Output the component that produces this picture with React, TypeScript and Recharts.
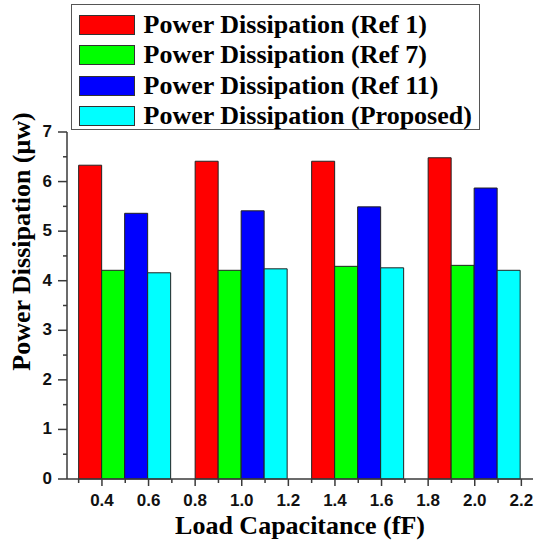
import { BarChart, Bar, XAxis, YAxis, Legend } from 'recharts';

const loads = [0.5, 1.0, 1.5, 2.0];
const ref1 = [6.33, 6.41, 6.41, 6.48];
const ref7 = [4.21, 4.21, 4.29, 4.31];
const ref11 = [5.36, 5.41, 5.49, 5.87];
const proposed = [4.16, 4.24, 4.26, 4.21];

const xTicks = [0.3, 0.4, 0.5, 0.6, 0.7, 0.8, 0.9, 1.0, 1.1, 1.2, 1.3, 1.4, 1.5, 1.6, 1.7, 1.8, 1.9, 2.0, 2.1, 2.2];
const xLabels = [0.4, 0.6, 0.8, 1.0, 1.2, 1.4, 1.6, 1.8, 2.0, 2.2];
const yTicks = [0, 0.5, 1, 1.5, 2, 2.5, 3, 3.5, 4, 4.5, 5, 5.5, 6, 6.5, 7];

const seriesNames = [
  'Power Dissipation (Ref 1)',
  'Power Dissipation (Ref 7)',
  'Power Dissipation (Ref 11)',
  'Power Dissipation (Proposed)'
];

const data = loads.map((load, i) => ({
  load,
  group: load.toFixed(1),
  ref1: ref1[i],
  ref7: ref7[i],
  ref11: ref11[i],
  proposed: proposed[i]
}));

const axisColor = '#3a3a3a';
const tickFont = { fontFamily: '"Liberation Sans", Arial, sans-serif', fontWeight: 700, fontSize: 17, fill: '#111' };
const titleFont = { fontFamily: '"Liberation Serif", "Times New Roman", serif', fontWeight: 700, fontSize: 26, fill: '#000' };

const XTick = ({ x, y, payload }: any) => {
  const major = xLabels.includes(payload.value);
  return (
    <g>
      <line x1={x} x2={x} y1={y} y2={y + (major ? 7 : 4)} stroke={axisColor} strokeWidth={1.5} />
      {major && (
        <text x={x} y={y + 27} textAnchor="middle" style={tickFont}>
          {payload.value.toFixed(1)}
        </text>
      )}
    </g>
  );
};

const YTick = ({ x, y, payload }: any) => {
  const major = Number.isInteger(payload.value);
  return (
    <g>
      <line x1={x - (major ? 9 : 4)} x2={x} y1={y} y2={y} stroke={axisColor} strokeWidth={1.5} />
      {major && (
        <text x={x - 15} y={y + 5} textAnchor="end" style={tickFont}>
          {payload.value}
        </text>
      )}
    </g>
  );
};

const YTitle = ({ viewBox }: any) => (
  <text
    transform={`translate(${viewBox.x + 30},${viewBox.y + viewBox.height / 2 - 64}) rotate(-90)`}
    textAnchor="middle"
    style={titleFont}
  >
    Power Dissipation (μw)
  </text>
);

const renderLegend = ({ payload }: any) => {
  const items = [...(payload || [])].sort(
    (a: any, b: any) => seriesNames.indexOf(a.value) - seriesNames.indexOf(b.value)
  );
  return (
    <div
      style={{
        width: 409,
        height: 126,
        boxSizing: 'border-box',
        border: '1.5px solid #555',
        padding: '5px 0 0 6.5px',
        background: '#fff'
      }}
    >
      {items.map((entry: any) => (
        <div key={entry.value} style={{ display: 'flex', alignItems: 'center', height: 30.3 }}>
          <span
            style={{
              width: 56,
              height: 20,
              boxSizing: 'border-box',
              background: entry.color,
              border: '1.5px solid #333'
            }}
          />
          <span style={{ ...titleFont, color: '#000', marginLeft: 9, lineHeight: '30px' }}>{entry.value}</span>
        </div>
      ))}
    </div>
  );
};

export default function App() {
  return (
    <div style={{ position: 'absolute', left: 0, top: 0, width: 534, height: 545, overflow: 'hidden', background: '#fff' }}>
      <BarChart
        width={545}
        height={545}
        data={data}
        margin={{ top: 132, right: 12, bottom: 0, left: 0 }}
        barCategoryGap="10%"
        barGap={0}
      >
        <XAxis xAxisId="cat" dataKey="group" hide height={0} />
        <XAxis
          xAxisId="num"
          dataKey="load"
          type="number"
          domain={[0.25, 2.25]}
          allowDataOverflow
          ticks={xTicks}
          interval={0}
          height={66}
          tickSize={0}
          tickMargin={0}
          tickLine={false}
          axisLine={{ stroke: axisColor, strokeWidth: 1.5 }}
          tick={<XTick />}
          label={{ value: 'Load Capacitance (fF)', position: 'insideBottom', offset: 11, style: titleFont }}
        />
        <YAxis
          domain={[0, 7]}
          ticks={yTicks}
          interval={0}
          width={67}
          tickSize={0}
          tickMargin={0}
          tickLine={false}
          axisLine={{ stroke: axisColor, strokeWidth: 1.5 }}
          tick={<YTick />}
          label={<YTitle />}
        />
        <Legend
          layout="vertical"
          align="center"
          verticalAlign="middle"
          itemSorter={(item: any) => seriesNames.indexOf(item.value)}
          wrapperStyle={{ left: 71, top: 4 }}
          content={renderLegend}
        />
        <Bar xAxisId="cat" dataKey="ref1" name={seriesNames[0]} fill="#ff0000" stroke="#222" strokeWidth={1} isAnimationActive={false} />
        <Bar xAxisId="cat" dataKey="ref7" name={seriesNames[1]} fill="#00ff00" stroke="#222" strokeWidth={1} isAnimationActive={false} />
        <Bar xAxisId="cat" dataKey="ref11" name={seriesNames[2]} fill="#0000ff" stroke="#222" strokeWidth={1} isAnimationActive={false} />
        <Bar xAxisId="cat" dataKey="proposed" name={seriesNames[3]} fill="#00ffff" stroke="#222" strokeWidth={1} isAnimationActive={false} />
      </BarChart>
    </div>
  );
}
